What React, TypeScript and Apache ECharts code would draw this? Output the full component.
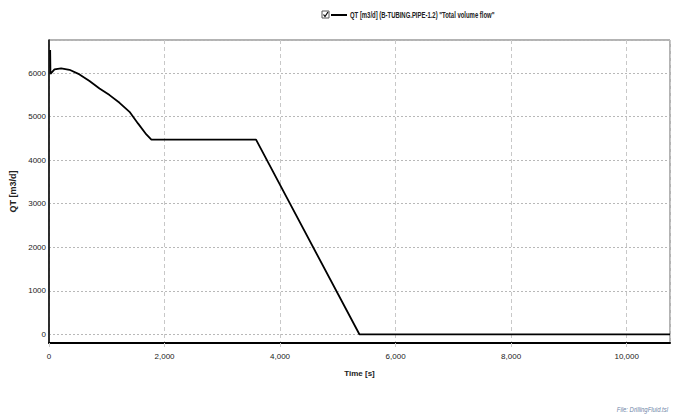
import React, { useEffect, useRef } from "react";
import * as echarts from "echarts";

const timeS = [20, 25, 95, 210, 355, 528, 701, 874, 1048, 1221, 1394, 1540, 1685, 1772, 3584, 5373, 10750];
const flowQT = [6530, 5980, 6083, 6108, 6076, 5970, 5816, 5648, 5494, 5317, 5110, 4844, 4591, 4470, 4470, 0, 0];
const seriesName = 'QT [m3/d] (B-TUBING.PIPE-1.2) "Total volume flow"';
const xAxisName = "Time [s]";
const yAxisName = "QT [m3/d]";
const footerText = "File: DrillingFluid.tsl";

const FONT = '"Liberation Sans", Arial, sans-serif';

export default function App() {
  const ref = useRef<HTMLDivElement>(null);
  useEffect(() => {
    if (!ref.current) return;
    const chart = echarts.init(ref.current, null, { renderer: "svg" });
    const data = timeS.map((t, i) => [t, flowQT[i]]);
    chart.setOption({
      animation: false,
      backgroundColor: "#ffffff",
      textStyle: { fontFamily: FONT },
      grid: {
        left: 49,
        top: 40,
        right: 3,
        bottom: 71,
        show: true,
        borderColor: "#666",
        borderWidth: 1,
        containLabel: false,
        outerBoundsMode: "none",
      },
      legend: { show: false, data: [seriesName] },
      xAxis: {
        type: "value",
        min: 0,
        max: 10750,
        interval: 2000,
        name: xAxisName,
        nameLocation: "middle",
        nameGap: 26,
        nameTextStyle: { fontFamily: FONT, fontSize: 8, color: "#222", fontWeight: "bold" },
        axisLine: { show: true, onZero: false, lineStyle: { color: "#000", width: 2 } },
        axisTick: { show: true, length: 6, lineStyle: { color: "#ccc", type: "dashed" } },
        axisLabel: {
          showMaxLabel: false,
          margin: 9,
          fontFamily: FONT,
          fontSize: 8,
          color: "#222",
          formatter: (v: number) => v.toLocaleString("en-US"),
        },
        splitLine: { show: true, lineStyle: { color: "#c8c8c8", type: [4, 3], width: 1 } },
      },
      yAxis: {
        type: "value",
        min: -200,
        max: 6760,
        minInterval: 1000,
        maxInterval: 1000,
        splitNumber: 7,
        name: yAxisName,
        nameLocation: "middle",
        nameGap: 22,
        nameRotate: 90,
        nameTextStyle: { fontFamily: FONT, fontSize: 9, color: "#222", fontWeight: "bold" },
        axisLine: { show: true, lineStyle: { color: "#000", width: 1.5 } },
        axisTick: { show: false },
        axisLabel: {
          showMinLabel: false,
          showMaxLabel: false,
          margin: 3,
          fontFamily: FONT,
          fontSize: 8,
          color: "#222",
          formatter: (v: number) => String(v),
        },
        splitLine: { show: true, lineStyle: { color: "#b8b8b8", type: [2, 2], width: 1 } },
      },
      series: [
        {
          name: seriesName,
          type: "line",
          data,
          smooth: false,
          showSymbol: false,
          symbol: "none",
          lineStyle: { color: "#000", width: 1.8 },
          itemStyle: { color: "#000" },
        },
      ],
      graphic: [
        {
          type: "rect",
          shape: { x: 322, y: 11, width: 7, height: 7 },
          style: { fill: "#fff", stroke: "#555", lineWidth: 1 },
        },
        {
          type: "polyline",
          shape: { points: [[323.5, 14.5], [325, 16.5], [328, 12]] },
          style: { fill: null, stroke: "#000", lineWidth: 1.2 },
        },
        {
          type: "line",
          shape: { x1: 331, y1: 15, x2: 347, y2: 15 },
          style: { stroke: "#000", lineWidth: 2 },
        },
        {
          type: "text",
          x: 350,
          y: 15,
          scaleX: 0.66,
          style: {
            text: seriesName,
            fontFamily: FONT,
            fontSize: 9,
            fontWeight: "bold",
            fill: "#222",
            verticalAlign: "middle",
            align: "left",
          },
        },
        {
          type: "text",
          x: 668,
          y: 409,
          scaleX: 0.74,
          style: {
            text: footerText,
            fontFamily: FONT,
            fontSize: 8,
            fontStyle: "italic",
            fill: "#6f86a8",
            align: "right",
            verticalAlign: "middle",
          },
        },
      ],
    });
    return () => chart.dispose();
  }, []);
  return <div ref={ref} style={{ position: "fixed", left: 0, top: 0, width: 673, height: 414 }} />;
}
